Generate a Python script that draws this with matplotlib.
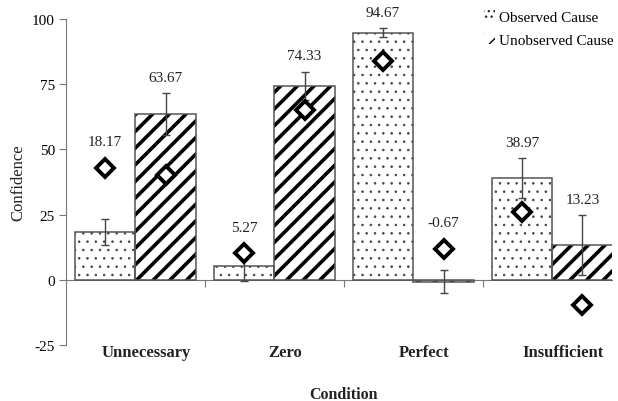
import numpy as np
import matplotlib
matplotlib.use("Agg")
import matplotlib.pyplot as plt
from matplotlib.patches import Patch

plt.rcParams["font.family"] = ["Liberation Serif", "DejaVu Serif"]

conditions     = ["Unnecessary", "Zero", "Perfect", "Insufficient"]
series_names   = ["Observed Cause", "Unobserved Cause"]
observed       = [18.17, 5.27, 94.67, 38.97]
unobserved     = [63.67, 74.33, -0.67, 13.23]
observed_err   = [5.0, 5.6, 1.7, 7.7]
unobserved_err = [8.0, 5.5, 4.3, 11.5]
observed_pts   = [42.9, 10.2, 83.9, 26.1]
unobserved_pts = [40.2, 65.1, 11.9, -9.6]
yticks         = [-25, 0, 25, 50, 75, 100]

EDGE  = "#555555"
SPINE = "#777777"

fig = plt.figure(figsize=(6.18, 4.02), dpi=100)
ax  = fig.add_axes([66 / 618, 1 - 346 / 402, (612 - 66) / 618, (346 - 20) / 402])

x     = np.arange(len(conditions))
width = 0.435
x_obs = x - width / 2
x_uno = x + width / 2

with plt.rc_context({"hatch.linewidth": 0.6}):
    ax.bar(x_obs, observed, width, color="white", edgecolor="#444444",
           linewidth=0, hatch="..", zorder=2)
    obs_handle = Patch(facecolor="white", edgecolor="#333333", linewidth=0, hatch="...")
with plt.rc_context({"hatch.linewidth": 2.6}):
    ax.bar(x_uno, unobserved, width, color="white", edgecolor="black",
           linewidth=0, hatch="//", zorder=2)
    uno_handle = Patch(facecolor="white", edgecolor="black", linewidth=0, hatch="//")
# outlines
ax.bar(x_obs, observed, width, fill=False, edgecolor=EDGE, linewidth=1.1, zorder=3)
ax.bar(x_uno, unobserved, width, fill=False, edgecolor=EDGE, linewidth=1.1, zorder=3)

ax.errorbar(x_obs, observed, yerr=observed_err, fmt="none", ecolor="#444444",
            elinewidth=1.0, capsize=3, capthick=1.0, zorder=4)
ax.errorbar(x_uno, unobserved, yerr=unobserved_err, fmt="none", ecolor="#444444",
            elinewidth=1.0, capsize=3, capthick=1.0, zorder=4)

ax.plot(x_obs, observed_pts, "D", mfc="white", mec="black", ms=9.5, mew=2.8, zorder=5)
ax.plot(x_uno, unobserved_pts, "D", mfc="white", mec="black", ms=9.5, mew=2.8, zorder=5)

# value labels above the highest mark of each bar
for xs, vals, errs, pts in [(x_obs, observed, observed_err, observed_pts),
                            (x_uno, unobserved, unobserved_err, unobserved_pts)]:
    for xi, v, e, p in zip(xs, vals, errs, pts):
        top = max(v + e, p + 4)
        ax.text(xi, top + 6, f"{v:.2f}", ha="center", va="center",
                fontsize=11, color="#222222")

ax.set_xlim(-0.5, 3.43)
ax.set_ylim(-25, 100)

for s in ["top", "right"]:
    ax.spines[s].set_visible(False)
ax.spines["bottom"].set_position(("data", 0))
ax.spines["bottom"].set_color(SPINE)
ax.spines["left"].set_color(SPINE)

ax.set_xticks(x[:-1] + 0.5)
ax.set_xticklabels([])
ax.tick_params(axis="x", length=5, color=SPINE)
ax.set_yticks(yticks)
ax.set_yticklabels([str(t) for t in yticks], fontsize=11)
ax.tick_params(axis="y", length=5, color=SPINE, pad=3)

for i, c in enumerate(conditions):
    ax.text(x[i] + 0.08, -27.6, c, ha="center", va="center",
            fontsize=12, fontweight="bold", color="#222222")

ax.set_xlabel("Condition", fontsize=11.5, fontweight="bold", color="#222222")
ax.xaxis.set_label_coords(0.508, -0.125)
ax.set_ylabel("Confidence", fontsize=12, color="#222222")
ax.yaxis.set_label_coords(-0.073, 0.5)

ax.legend([obs_handle, uno_handle], series_names, loc="upper right",
          bbox_to_anchor=(1.02, 1.055), frameon=False, fontsize=11,
          handlelength=0.7, handleheight=0.7, handletextpad=0.3,
          labelspacing=0.6, borderaxespad=0.2)

fig.savefig("out.png", dpi=100)
